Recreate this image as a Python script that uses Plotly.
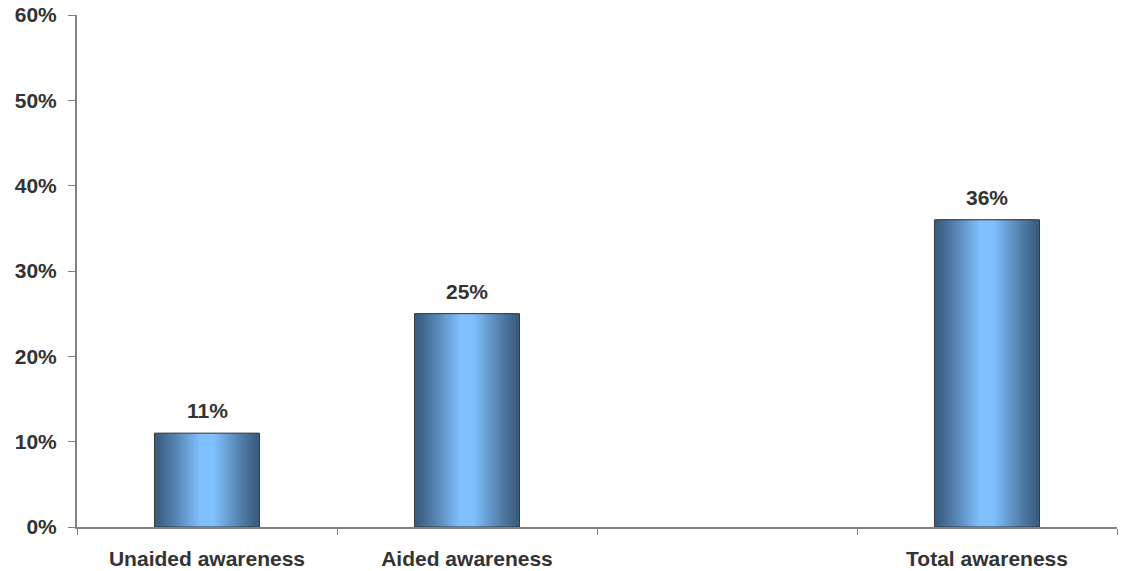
import plotly.graph_objects as go

# Awareness levels (share of respondents)
categories = ["Unaided awareness", "Aided awareness", " ", "Total awareness"]
values = [0.11, 0.25, None, 0.36]
labels = ["11%", "25%", "", "36%"]

FONT = "Liberation Sans, Arial, sans-serif"
TEXT = "#333333"
AXIS = "#808080"
BAR_W = 0.404

# Horizontal shading: concentric overlaid bars, darkest at the edges, lightest in the middle
dark = (58, 92, 126)
light = (128, 192, 255)
steps = 30

fig = go.Figure()
for k in range(steps):
    t = (k / (steps - 1)) ** 1.15
    col = tuple(round(d + (l - d) * t) for d, l in zip(dark, light))
    fig.add_trace(go.Bar(
        x=categories, y=values,
        width=BAR_W * (1 - k / steps * 0.88),
        marker=dict(color="rgb(%d,%d,%d)" % col, line=dict(width=0)),
        hoverinfo="skip", showlegend=False,
    ))

# Outline on top
fig.add_trace(go.Bar(
    x=categories, y=values, width=BAR_W,
    marker=dict(color="rgba(0,0,0,0)", line=dict(color="#3a3a3a", width=1)),
    showlegend=False,
))

for c, v, lab in zip(categories, values, labels):
    if v is None:
        continue
    fig.add_annotation(
        x=c, y=v, text=lab, showarrow=False, yanchor="bottom", yshift=9,
        font=dict(family=FONT, size=21, color=TEXT, weight="bold"),
    )

fig.update_layout(
    width=1121, height=571,
    margin=dict(l=77, r=4, t=15, b=44),
    paper_bgcolor="white", plot_bgcolor="white",
    barmode="overlay",
    font=dict(family=FONT, size=21, color=TEXT, weight="bold"),
)
fig.update_xaxes(
    type="category", categoryorder="array", categoryarray=categories,
    showline=True, linecolor=AXIS, linewidth=2,
    ticks="outside", tickson="boundaries", ticklen=6, tickcolor=AXIS, tickwidth=1,
    showgrid=False, zeroline=False, ticklabelstandoff=12, automargin=False,
    tickfont=dict(family=FONT, size=21, color=TEXT, weight="bold"),
)
fig.update_yaxes(
    range=[0, 0.6], dtick=0.1, tickformat=".0%",
    showline=True, linecolor=AXIS, linewidth=2,
    ticks="outside", ticklen=7, tickcolor=AXIS, tickwidth=1,
    showgrid=False, zeroline=False, ticklabelstandoff=7, automargin=False,
    tickfont=dict(family=FONT, size=21, color=TEXT, weight="bold"),
)

fig.write_html("out.html")
